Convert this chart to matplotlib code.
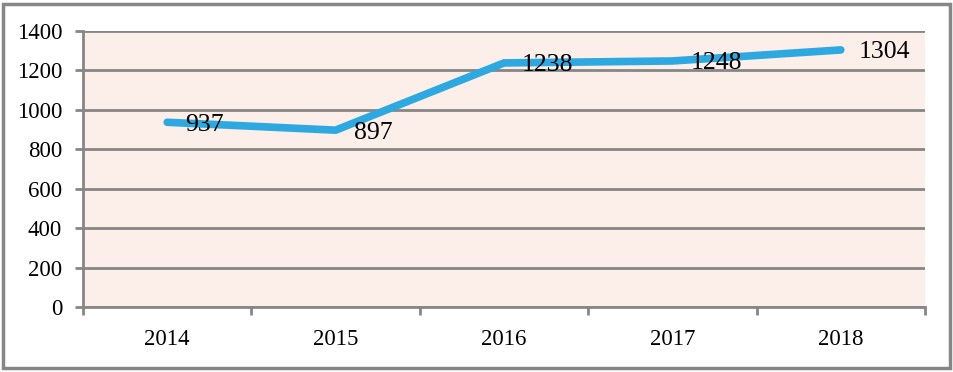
import matplotlib
matplotlib.use("Agg")
import matplotlib.pyplot as plt
from matplotlib.patches import Rectangle

years = ["2014", "2015", "2016", "2017", "2018"]
values = [937, 897, 1238, 1248, 1304]
yticks = [0, 200, 400, 600, 800, 1000, 1200, 1400]

plt.rcParams['font.family'] = ['Liberation Serif', 'DejaVu Serif']

fig = plt.figure(figsize=(9.54, 3.72), dpi=100)
ax = fig.add_axes([83/954, 1-307/372, (925-83)/954, (307-31)/372])
ax.set_facecolor('#FCEEE8')

x = list(range(len(years)))
ax.plot(x, values, color='#2EA8E0', lw=5.5, solid_joinstyle='miter', solid_capstyle='round', zorder=3)
for xi, v in zip(x, values):
    ax.annotate(str(v), (xi, v), xytext=(13, 0), textcoords='offset points',
                ha='left', va='center_baseline', fontsize=18.5, color='black', zorder=4)

ax.set_xlim(-0.5, len(years)-0.5)
ax.set_ylim(0, 1400)
ax.set_yticks(yticks)
ax.set_yticklabels([str(t) for t in yticks], fontsize=16.5)
ax.set_xticks(x)
ax.set_xticklabels(years, fontsize=16.5)
ax.set_xticks([i-0.5 for i in range(len(years)+1)], minor=True)
ax.tick_params(axis='x', which='major', length=0, pad=16)
ax.tick_params(axis='x', which='minor', length=6, width=2, color='#868686', direction='out')
ax.tick_params(axis='y', length=6, width=2, color='#868686', pad=9)

ax.grid(axis='y', color='#868686', lw=2)
ax.set_axisbelow(True)
for s in ['top', 'right']:
    ax.spines[s].set_visible(False)
for s in ['left', 'bottom']:
    ax.spines[s].set_color('#868686')
    ax.spines[s].set_linewidth(2)

fig.patches.append(Rectangle((3/954, 4/372), 947/954, 364/372, transform=fig.transFigure,
                             fill=False, edgecolor='#868686', lw=2.5))

fig.savefig('out.png', dpi=100)
